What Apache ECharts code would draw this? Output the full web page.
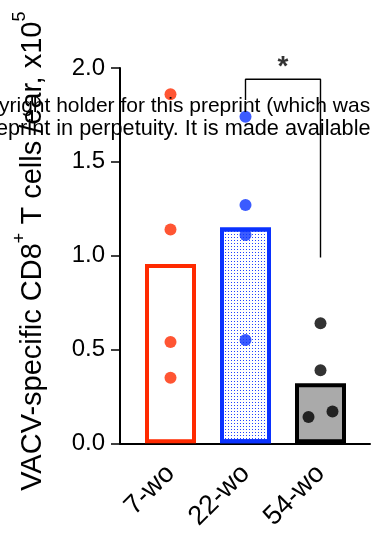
<!DOCTYPE html>
<html>
<head>
<meta charset="utf-8">
<script src="https://cdn.jsdelivr.net/npm/echarts@6/dist/echarts.min.js"></script>
<style>
html,body{margin:0;padding:0;background:#fff;}
#chart{width:373px;height:533px;}
</style>
</head>
<body>
<div id="chart"></div>
<script>
var categories = ['7-wo', '22-wo', '54-wo'];
var barMeans = [0.955, 1.15, 0.32];
var points7 = [1.86, 1.14, 0.54, 0.35];
var points22 = [1.74, 1.27, 1.11, 0.55];
var points54 = [0.64, 0.39, 0.14, 0.17];
var yTicks = [0, 0.5, 1.0, 1.5, 2.0];
var bracket = [[1, 1.83], [1, 1.94], [2, 1.94], [2, 0.99]];
var watermark = ['yright holder for this preprint (which was', 'eprint in perpetuity. It is made available'];

var FONT = 'Liberation Sans, Arial, Helvetica, sans-serif';
var RED = '#FF2A00', BLUE = '#0A32FF', GRAY = '#AAAAAA';
var colors = [RED, BLUE, '#000000'];
var jitter54 = [0, 0, -12, 12];

var chart = echarts.init(document.getElementById('chart'), null, {renderer: 'canvas'});

var barData = barMeans.map(function (v, i) {
  var st;
  if (i === 0) st = {color: '#ffffff', borderColor: RED, borderWidth: 4};
  else if (i === 1) st = {color: '#ffffff', borderColor: BLUE, borderWidth: 4,
    decal: {symbol: 'rect', symbolSize: 1, color: 'rgba(10,45,255,0.9)', dashArrayX: [1, 2], dashArrayY: [1, 2], rotation: 0}};
  else st = {color: GRAY, borderColor: '#000', borderWidth: 4};
  return {value: v, itemStyle: st};
});

var scatterData = [];
[points7, points22, points54].forEach(function (arr, ci) {
  arr.forEach(function (v, j) {
    var item = {value: [ci, v], itemStyle: {color: colors[ci]}};
    if (ci === 2) item.symbolOffset = [jitter54[j], 0];
    scatterData.push(item);
  });
});

var option = {
  animation: false,
  backgroundColor: '#ffffff',
  textStyle: {fontFamily: FONT},
  grid: [
    {left: 133, right: 15, top: 68, bottom: 89},
    {left: 120, right: 3, top: 68, bottom: 89}
  ],
  xAxis: [
    {
      type: 'category', gridIndex: 0, data: categories,
      axisLine: {show: false}, axisTick: {show: false},
      axisLabel: {rotate: 45, fontSize: 27, color: '#000', fontFamily: FONT, margin: 26, interval: 0}
    },
    {
      type: 'value', gridIndex: 1, min: 0, max: 1,
      axisLine: {show: true, onZero: false, lineStyle: {color: '#000', width: 2}},
      axisTick: {show: false}, axisLabel: {show: false}, splitLine: {show: false}
    }
  ],
  yAxis: [
    {
      type: 'value', gridIndex: 0, min: yTicks[0], max: yTicks[yTicks.length - 1], interval: 0.5, offset: 13,
      axisLine: {show: true, lineStyle: {color: '#000', width: 2}},
      axisTick: {show: true, length: 9, lineStyle: {color: '#000', width: 1.5}},
      axisLabel: {fontSize: 24, color: '#000', fontFamily: FONT, margin: 15,
        formatter: function (v) { return v.toFixed(1); }},
      splitLine: {show: false},
      name: '{a|VACV-specific CD8}{s|+}{a| T cells /ear, x10}{s|5}',
      nameLocation: 'middle', nameGap: 73, nameRotate: 90,
      nameTextStyle: {
        color: '#000', fontFamily: FONT, fontSize: 29, padding: [0, 0, 0, 9],
        rich: {
          a: {fontSize: 29, color: '#000', fontFamily: FONT, lineHeight: 36, verticalAlign: 'bottom'},
          s: {fontSize: 18, color: '#000', fontFamily: FONT, lineHeight: 36, verticalAlign: 'top'}
        }
      }
    },
    {
      type: 'value', gridIndex: 1, min: 0, max: 1, show: false
    }
  ],
  series: [
    {
      type: 'bar', xAxisIndex: 0, yAxisIndex: 0, data: barData, barWidth: 51, z: 2
    },
    {
      type: 'scatter', xAxisIndex: 0, yAxisIndex: 0, data: scatterData, symbolSize: 12, z: 5
    },
    {
      type: 'line', xAxisIndex: 0, yAxisIndex: 0, data: bracket, symbol: 'none',
      lineStyle: {color: '#000', width: 1.4}, z: 4
    },
    {
      type: 'scatter', xAxisIndex: 0, yAxisIndex: 0, data: [bracket[1]], symbolSize: 0, z: 6,
      label: {show: true, formatter: '*', position: 'top', offset: [37.5, 7], fontSize: 28, fontWeight: 'bold', color: '#000', fontFamily: FONT}
    }
  ],
  graphic: watermark.map(function (t, i) {
    return {
      type: 'text', left: i === 0 ? -1 : -4, top: 96 + i * 22, z: 100,
      style: {text: t, fontSize: i === 0 ? 21 : 21.7, fill: '#000', fontFamily: FONT}
    };
  })
};
chart.setOption(option);
</script>
</body>
</html>
